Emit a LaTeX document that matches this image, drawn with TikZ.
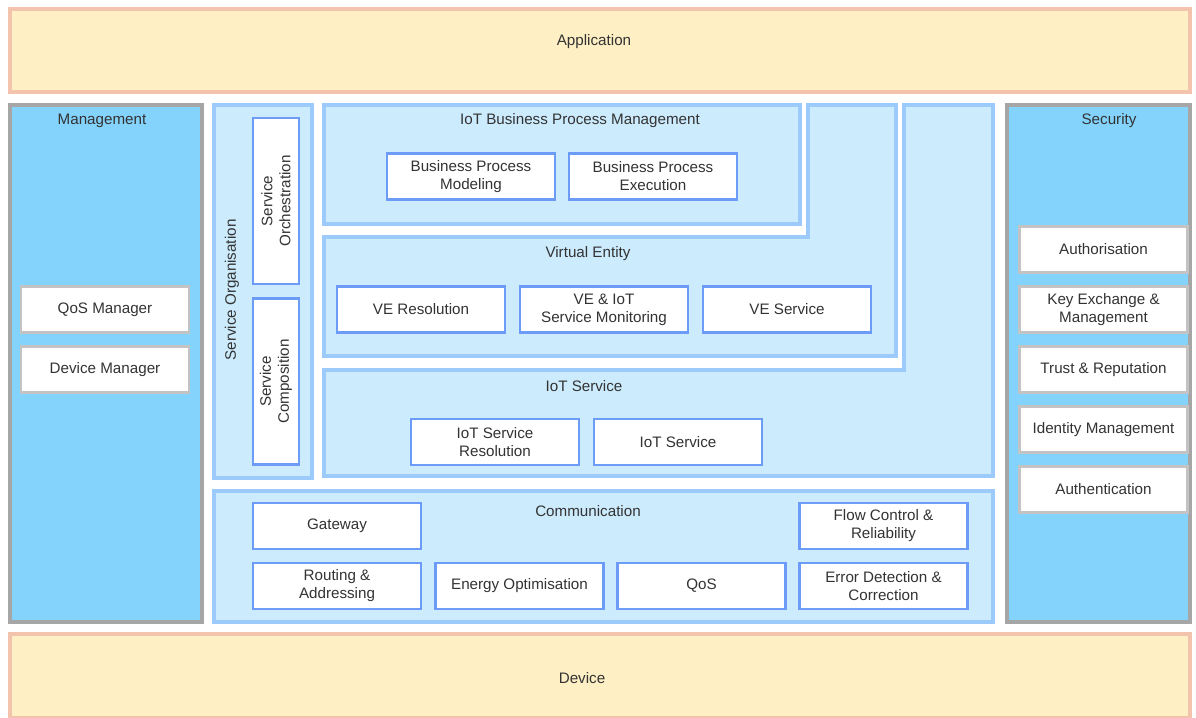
\documentclass[tikz,border=0pt]{standalone}
\usepackage{fontspec}
\setmainfont{Liberation Sans}
\usetikzlibrary{positioning}
\definecolor{layerline}{HTML}{F4C3AE}
\definecolor{layerfill}{HTML}{FEEFC4}
\definecolor{sideline}{HTML}{A6A6A6}
\definecolor{sidefill}{HTML}{83D3FC}
\definecolor{panelline}{HTML}{9CCBFB}
\definecolor{panelfill}{HTML}{CCEBFD}
\definecolor{boxline}{HTML}{6C9CF7}
\definecolor{sboxline}{HTML}{C3C3C3}
\definecolor{txt}{HTML}{333333}
\tikzset{
  layer/.style = {draw=layerline, fill=layerfill, line width=3pt},% application / device
  side/.style = {draw=sideline, fill=sidefill, line width=3pt},% management / security
  panel/.style = {draw=panelline, fill=panelfill, line width=3pt},% functional group
  title/.style = {text=txt, inner sep=0pt, font=\fontsize{10.8}{12.8}\selectfont},
  fbox/.style = {rectangle, draw=boxline, fill=white, line width=2pt, align=center,
    text=txt, font=\fontsize{10.8}{12.8}\selectfont, inner sep=0pt,
    minimum width=4.2cm, minimum height=1.15cm},% functional component
  sbox/.style = {fbox, draw=sboxline}% management / security component
}
\begin{document}
\begin{tikzpicture}[x=0.025cm, y=-0.025cm]
\useasboundingbox (0,0) rectangle (1196,717);
% layers
\draw[layer] (10,9) rectangle (1190,92);
\draw[layer] (10,634) rectangle (1190,718);
\node[title] (app) at (594,42) {Application};
\node[title] (dev) at (582,678) {Device};
% management and security
\draw[side] (10,105) rectangle (202,622);
\draw[side] (1007,105) rectangle (1190,622);
\node[title] (mgmt) at (102,121) {Management};
\node[title] (sec) at (1109,121) {Security};
\node[sbox] (qosm) at (105,309.5) {QoS Manager};
\node[sbox] (devm) at (105,369.5) {Device Manager};
\node[sbox] (authz) at (1103.5,249.5) {Authorisation};
\node[sbox] (keyx) at (1103.5,309.5) {Key Exchange \&\\Management};
\node[sbox] (trust) at (1103.5,369.5) {Trust \& Reputation};
\node[sbox] (idm) at (1103.5,429.5) {Identity Management};
\node[sbox] (authn) at (1103.5,489.5) {Authentication};
% service organisation
\draw[panel] (214,105) rectangle (312,478);
\node[title, rotate=90] (sorg) at (232,290) {Service Organisation};
\node[fbox, rotate=90, minimum width=4.15cm] (sorch) at (276,201) {Service\\Orchestration};
\node[fbox, rotate=90, minimum width=4.15cm] (scomp) at (276,381.5) {Service\\Composition};
% business process
\draw[panel] (324,105) rectangle (800,224);
\node[title] (bpm) at (580,121) {IoT Business Process Management};
\node[fbox] (bpmod) at (471,176.5) {Business Process\\Modeling};
\node[fbox] (bpexe) at (653,176.5) {Business Process\\Execution};
% virtual entity
\draw[panel] (324,237) -- (808,237) -- (808,105) -- (896,105) -- (896,356) -- (324,356) -- cycle;
\node[title] (ve) at (588,254) {Virtual Entity};
\node[fbox] (veres) at (421,309.5) {VE Resolution};
\node[fbox] (vemon) at (604,309.5) {VE \& IoT\\Service Monitoring};
\node[fbox] (veserv) at (787,309.5) {VE Service};
% iot service
\draw[panel] (324,370) -- (904,370) -- (904,105) -- (993,105) -- (993,476) -- (324,476) -- cycle;
\node[title] (iots) at (584,386) {IoT Service};
\node[fbox] (iotres) at (495,442) {IoT Service\\Resolution};
\node[fbox] (iotserv) at (678,442) {IoT Service};
% communication
\draw[panel] (214,491) rectangle (993,622);
\node[title] (comm) at (588,511) {Communication};
\node[fbox] (gw) at (337,526) {Gateway};
\node[fbox] (flow) at (883.5,526) {Flow Control \&\\Reliability};
\node[fbox] (route) at (337,586) {Routing \&\\Addressing};
\node[fbox] (energy) at (519.5,586) {Energy Optimisation};
\node[fbox] (qos) at (701.5,586) {QoS};
\node[fbox] (err) at (883.5,586) {Error Detection \&\\Correction};
\end{tikzpicture}
\end{document}
